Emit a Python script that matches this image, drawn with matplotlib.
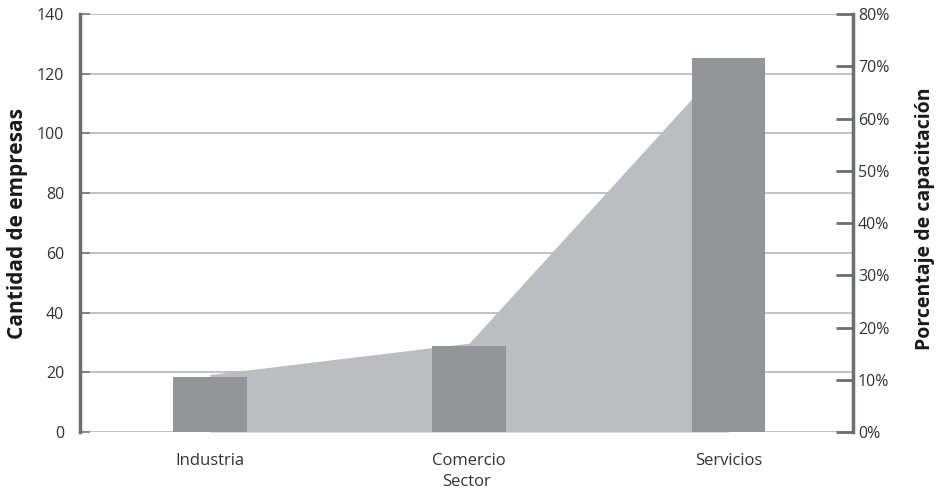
import matplotlib.pyplot as plt
import matplotlib.transforms as mtransforms
from matplotlib.ticker import PercentFormatter

plt.rcParams['font.family'] = ['Open Sans', 'DejaVu Sans']

sectores = ["Industria", "Comercio", "Servicios"]
empresas = [18.5, 28.9, 125.4]
capacitacion = [11.0, 17.0, 71.5]  # porcentaje

x = list(range(len(sectores)))

fig = plt.figure(figsize=(9.36, 4.93), dpi=100)
ax2 = fig.add_axes([0.0855, 0.1237, 0.8258, 0.8479])
ax = ax2.twinx()
ax.set_zorder(ax2.get_zorder() + 1)
ax.patch.set_visible(False)
ax.xaxis.set_visible(True)
# ax (delante) -> barras con eje izquierdo, ax2 (detras) -> area con eje derecho
ax.yaxis.tick_left()
ax.yaxis.set_label_position("left")
ax2.yaxis.tick_right()
ax2.yaxis.set_label_position("right")

# lineas de cuadricula segun el eje izquierdo, debajo del area
grid_tr = mtransforms.blended_transform_factory(ax2.transAxes, ax.transData)
for v in range(0, 141, 20):
    ax2.plot([0, 1], [v, v], transform=grid_tr, color="#b8b8b8", lw=1.2, zorder=0.5)

ax2.fill_between(x, capacitacion, 0, color="#bcbdc0", lw=0, zorder=1)
ax.bar(x, empresas, width=0.285, color="#939598", zorder=2)

ax.set_xlim(-0.5, 2.48)
ax.set_ylim(0, 140)
ax2.set_ylim(0, 80)
ax.set_yticks(range(0, 141, 20))
ax2.set_yticks(range(0, 81, 10))
ax2.yaxis.set_major_formatter(PercentFormatter(decimals=0))

ax.set_xticks(x)
ax.set_xticklabels(sectores)
ax2.tick_params(axis="x", which="both", bottom=False, labelbottom=False)
ax.tick_params(axis="x", bottom=True, labelbottom=True, length=0, pad=15,
               labelsize=12, labelcolor="#333333")
ax.tick_params(axis="y", direction="in", length=7, width=1.2, color="#7a7a7a",
               pad=11.5, labelsize=11.5, labelcolor="#333333")
ax2.tick_params(axis="y", direction="in", length=12, width=2, color="#6d6e71",
                pad=3.5, labelsize=11.5, labelcolor="#333333")

for a in (ax, ax2):
    a.spines["top"].set_visible(False)
    a.spines["bottom"].set_visible(False)
ax.spines["right"].set_visible(False)
ax2.spines["left"].set_visible(False)
ax.spines["left"].set_color("#6d6e71")
ax.spines["left"].set_linewidth(2.5)
ax2.spines["right"].set_color("#6d6e71")
ax2.spines["right"].set_linewidth(2.5)

ax.set_xlabel("Sector", fontsize=12, color="#333333", labelpad=4)
ax.set_ylabel("Cantidad de empresas", fontsize=15, fontweight="bold",
              color="#1a1a1a", va="center")
ax.yaxis.set_label_coords(-0.081, 0.5)
ax2.set_ylabel("Porcentaje de capacitación", fontsize=14, fontweight="bold",
               color="#1a1a1a", va="center")
ax2.yaxis.set_label_coords(1.093, 0.51)

fig.savefig("out.png", dpi=100)
